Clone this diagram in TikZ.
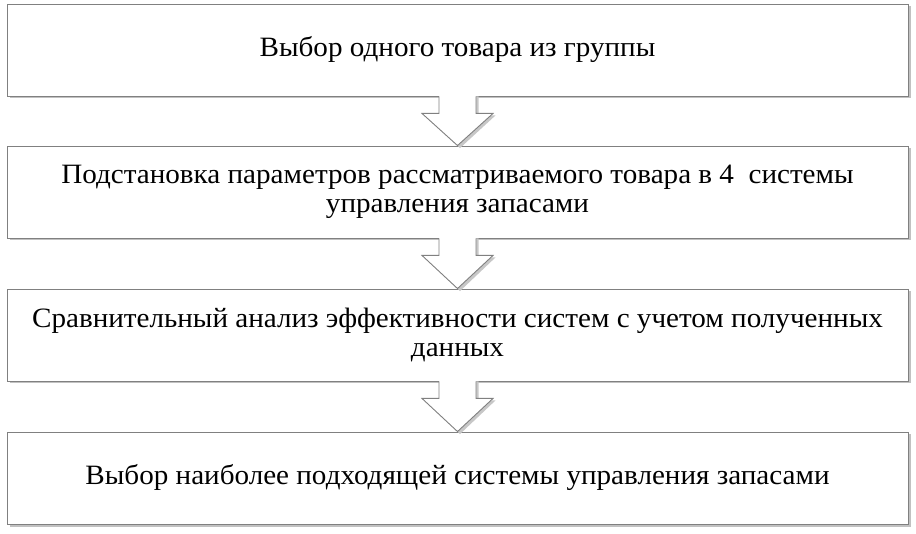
\documentclass[tikz,border=0pt]{standalone}
\usepackage{fontspec}
\setmainfont{Liberation Serif}[FakeStretch=1.04]
\usetikzlibrary{calc,shadows}
\begin{document}
\begin{tikzpicture}[x=1pt,y=-1pt,
  stepbox/.style={draw=black!50, line width=0.9pt, fill=white, minimum width=901pt, minimum height=92pt,
    inner sep=0pt, align=center, font=\fontsize{28}{29}\selectfont,
    drop shadow={shadow xshift=2.5pt, shadow yshift=-2.5pt, fill=black!30, opacity=0.8}},
  arrowline/.style={draw=black!50, line width=0.9pt, line join=miter},
  arrowshadow/.style={fill=black!22},
]
\useasboundingbox (0,0) rectangle (916,534);
\node[stepbox] (b1) at (457.5,50) {Выбор одного товара из группы};
\node[stepbox] (b2) at (457.5,192) {Подстановка параметров рассматриваемого товара в 4\ \ системы\\управления запасами};
\node[stepbox] (b3) at (457.5,335) {Сравнительный анализ эффективности систем с учетом полученных\\данных};
\node[stepbox] (b4) at (457.5,478) {Выбор наиболее подходящей системы управления запасами};
\foreach \a/\b in {b1/b2, b2/b3, b3/b4}{
  \fill[arrowshadow] ($(\a.south)+(-16,0)$) -- ++(0,19) -- ++(-17,0) -- ($(\b.north)+(2.5,2.5)$) -- ($(\a.south)+(38,19)$) -- ++(-17,0) -- ++(0,-19) -- cycle;
  \fill[white] ($(\a.south)+(-18.5,-1)$) -- ++(0,18) -- ++(-17,0) -- (\b.north) -- ($(\a.south)+(35.5,17)$) -- ++(-17,0) -- ++(0,-18) -- cycle;
  \draw[arrowline] ($(\a.south)+(-18.5,0)$) -- ++(0,17) -- ++(-17,0) -- (\b.north) -- ($(\a.south)+(35.5,17)$) -- ++(-17,0) -- ++(0,-17);
}
\end{tikzpicture}
\end{document}
